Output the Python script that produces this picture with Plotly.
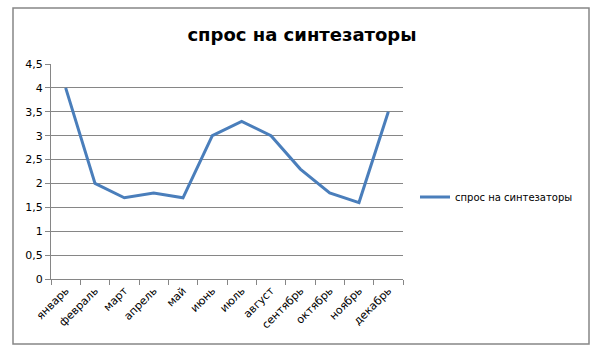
import plotly.graph_objects as go

months = ["январь", "февраль", "март", "апрель", "май", "июнь", "июль",
          "август", "сентябрь", "октябрь", "ноябрь", "декабрь"]
demand = [4, 2, 1.7, 1.8, 1.7, 3, 3.3, 3, 2.3, 1.8, 1.6, 3.5]
series_name = "спрос на синтезаторы"
title = "спрос на синтезаторы"
y_ticks = [0, 0.5, 1, 1.5, 2, 2.5, 3, 3.5, 4, 4.5]

W, H = 604, 354
L, R, T, B = 51, 201, 64, 75
pw, ph = W - L - R, H - T - B

def px(x):
    return (x - L) / pw

def py(y):
    return (H - B - y) / ph

fig = go.Figure()
fig.add_trace(go.Scatter(x=months, y=demand, mode="lines", name=series_name,
                         line=dict(color="#4a7ebb", width=3)))

fig.update_layout(
    width=W, height=H,
    margin=dict(l=L, r=R, t=T, b=B, pad=0),
    paper_bgcolor="white", plot_bgcolor="white",
    separators=", ",
    font=dict(family="DejaVu Sans", size=11, color="black"),
    title=dict(text="<b>" + title + "</b>", x=0.5, xanchor="center", xref="container",
               y=1 - 35 / H, yanchor="middle", yref="container",
               font=dict(family="DejaVu Sans", size=18, color="black")),
    showlegend=True,
    legend=dict(x=px(415), y=py(197), xanchor="left", yanchor="middle",
                font=dict(family="DejaVu Sans", size=10), bgcolor="rgba(0,0,0,0)",
                itemwidth=30),
    xaxis=dict(type="category", range=[-0.5, 11.5], tickson="boundaries",
               ticks="outside", ticklen=5, tickcolor="#868686",
               showline=True, linecolor="#868686", linewidth=1,
               showgrid=False, tickangle=-45,
               tickfont=dict(family="DejaVu Sans", size=11)),
    yaxis=dict(range=[0, 4.5], tickvals=y_ticks, ticks="outside", ticklen=5,
               tickcolor="#868686", showline=True, linecolor="#868686",
               showgrid=True, gridcolor="#868686", gridwidth=1, zeroline=False,
               tickfont=dict(family="DejaVu Sans", size=11)),
    shapes=[dict(type="rect", xref="paper", yref="paper",
                 x0=px(13), x1=px(589), y0=py(344), y1=py(8),
                 line=dict(color="#868686", width=1.5), fillcolor="rgba(0,0,0,0)",
                 layer="below")],
)

fig.write_html("out.html")
